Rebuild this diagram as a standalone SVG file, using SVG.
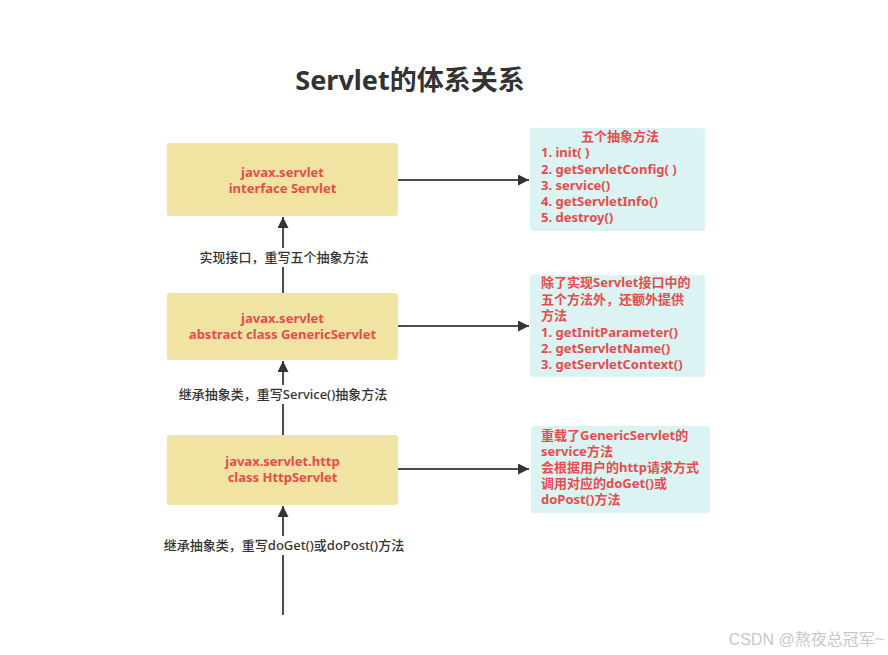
<svg xmlns="http://www.w3.org/2000/svg" width="888" height="655" viewBox="0 0 888 655">
<defs>
<style>
.node{fill:#F1E3A2;}
.note{fill:#DBF4F3;}
.nt{font-family:"Noto Sans","Noto Sans CJK SC",sans-serif;font-weight:bold;font-size:13px;fill:#E84B4B;}
.lbl{font-family:"Noto Sans","Noto Sans CJK SC",sans-serif;font-weight:500;font-size:13px;fill:#333333;text-anchor:middle;}
.edge{stroke:#4D4D4D;stroke-width:2;fill:none;}
</style>
<marker id="arr" viewBox="0 0 10 10" refX="10" refY="5" markerWidth="5.5" markerHeight="5.5" orient="auto" markerUnits="strokeWidth">
<path d="M0,0 L10,5 L0,10 z" fill="#333333"/>
</marker>
</defs>
<rect width="888" height="655" fill="#FFFFFF"/>
<text x="410" y="90" text-anchor="middle" font-family="'Noto Sans','Noto Sans CJK SC',sans-serif" font-weight="bold" font-size="27" fill="#333333">Servlet的体系关系</text>

<g id="connectors">
<line class="edge" x1="398" y1="180" x2="529" y2="180" marker-end="url(#arr)"/>
<line class="edge" x1="398" y1="326" x2="529" y2="326" marker-end="url(#arr)"/>
<line class="edge" x1="398" y1="469" x2="529" y2="469" marker-end="url(#arr)"/>
<line class="edge" x1="283" y1="293" x2="283" y2="217" marker-end="url(#arr)"/>
<line class="edge" x1="283" y1="435" x2="283" y2="361" marker-end="url(#arr)"/>
<line class="edge" x1="283" y1="615" x2="283" y2="506" marker-end="url(#arr)"/>
<rect x="195" y="248" width="178" height="19" fill="#FFFFFF"/>
<text class="lbl" x="284" y="262">实现接口，重写五个抽象方法</text>
<rect x="172" y="385" width="222" height="19" fill="#FFFFFF"/>
<text class="lbl" x="283" y="399">继承抽象类，重写Service()抽象方法</text>
<rect x="153" y="536" width="262" height="19" fill="#FFFFFF"/>
<text class="lbl" x="284" y="550">继承抽象类，重写doGet()或doPost()方法</text>
</g>

<g id="servlet">
<rect class="node" x="167" y="143" width="231" height="73" rx="3"/>
<text class="nt" text-anchor="middle"><tspan x="282.5" y="177">javax.servlet</tspan><tspan x="282.5" y="193">interface Servlet</tspan></text>
</g>
<g id="genericservlet">
<rect class="node" x="167" y="293" width="231" height="67" rx="3"/>
<text class="nt" text-anchor="middle"><tspan x="282.5" y="323">javax.servlet</tspan><tspan x="282.5" y="339">abstract class GenericServlet</tspan></text>
</g>
<g id="httpservlet">
<rect class="node" x="167" y="435" width="231" height="70" rx="3"/>
<text class="nt" text-anchor="middle"><tspan x="282.5" y="466">javax.servlet.http</tspan><tspan x="282.5" y="482">class HttpServlet</tspan></text>
</g>

<g id="note1">
<rect class="note" x="530" y="128" width="175" height="103" rx="3"/>
<text class="nt"><tspan x="620" y="141" text-anchor="middle">五个抽象方法</tspan><tspan x="541" y="157">1. init( )</tspan><tspan x="541" y="174">2. getServletConfig( )</tspan><tspan x="541" y="190">3. service()</tspan><tspan x="541" y="206">4. getServletInfo()</tspan><tspan x="541" y="222">5. destroy()</tspan></text>
</g>
<g id="note2">
<rect class="note" x="530" y="275" width="175" height="102" rx="3"/>
<text class="nt"><tspan x="541" y="287">除了实现Servlet接口中的</tspan><tspan x="541" y="304">五个方法外，还额外提供</tspan><tspan x="541" y="320">方法</tspan><tspan x="541" y="337">1. getInitParameter()</tspan><tspan x="541" y="353">2. getServletName()</tspan><tspan x="541" y="369">3. getServletContext()</tspan></text>
</g>
<g id="note3">
<rect class="note" x="531" y="426" width="179" height="87" rx="3"/>
<text class="nt"><tspan x="541" y="440">重载了GenericServlet的</tspan><tspan x="541" y="456">service方法</tspan><tspan x="541" y="472">会根据用户的http请求方式</tspan><tspan x="541" y="488">调用对应的doGet()或</tspan><tspan x="541" y="504">doPost()方法</tspan></text>
</g>

<text x="884" y="645" text-anchor="end" font-family="'Liberation Sans','Noto Sans CJK SC',sans-serif" font-size="16" fill="#C8C8C8">CSDN @熬夜总冠军~</text>
</svg>
